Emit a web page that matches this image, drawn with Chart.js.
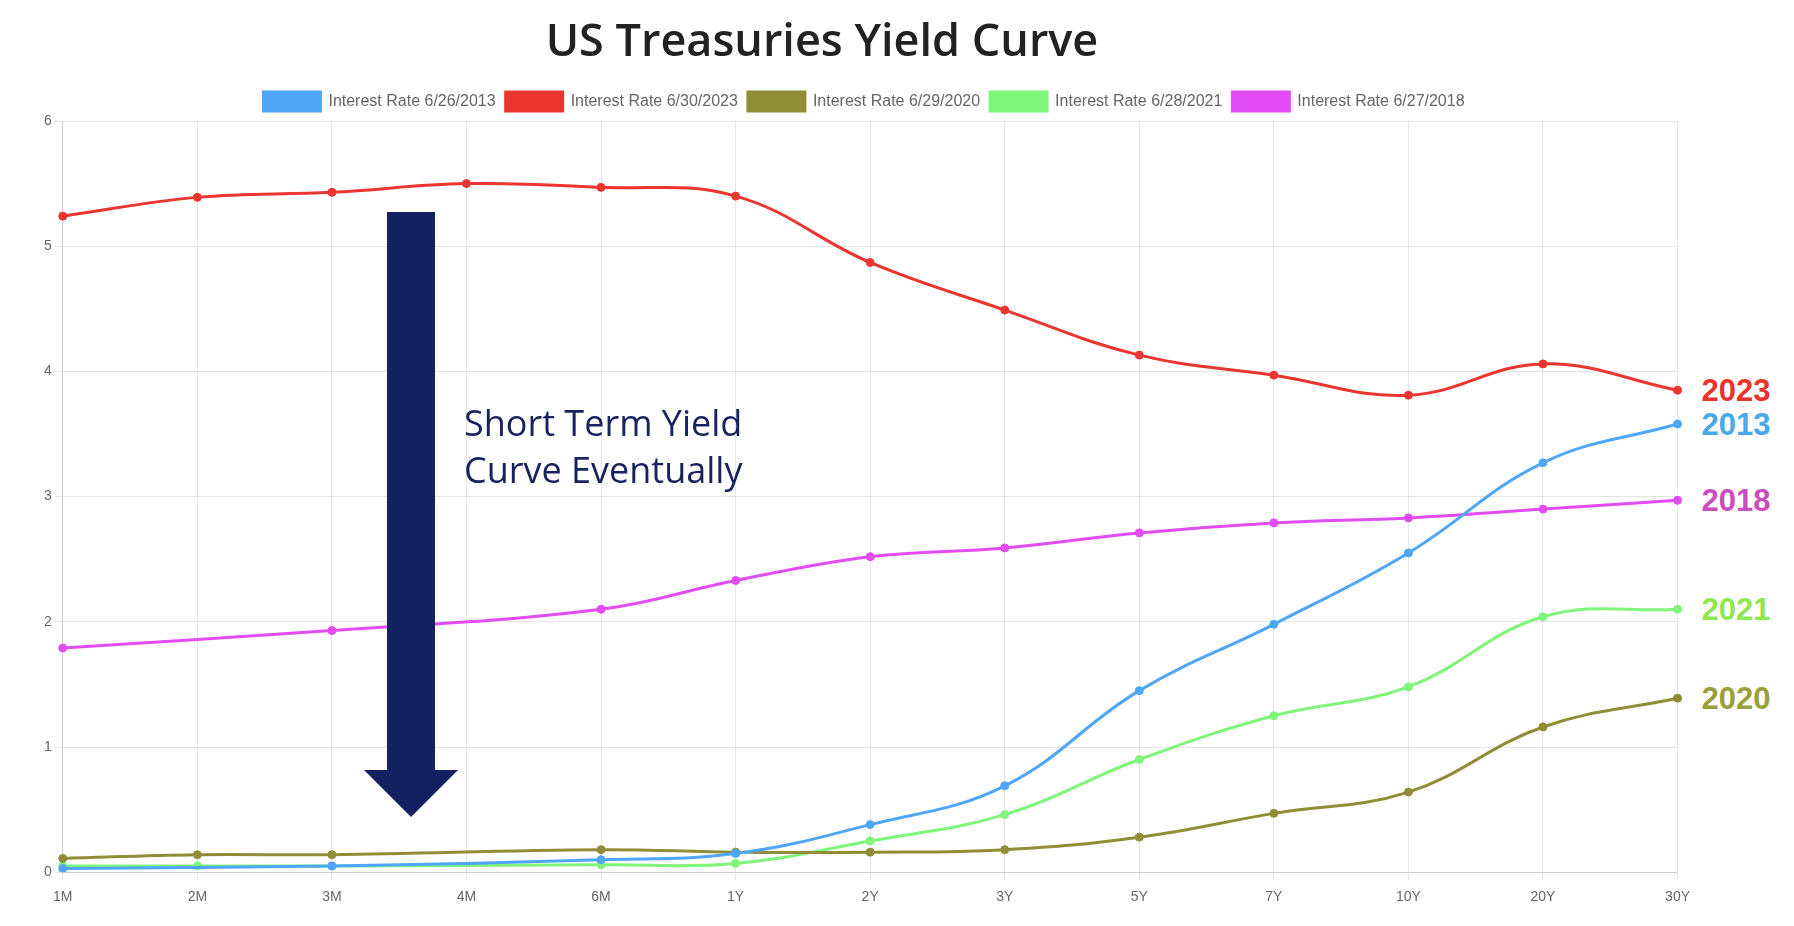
<!DOCTYPE html>
<html>
<head>
<meta charset="utf-8">
<script src="https://cdn.jsdelivr.net/npm/chart.js@4.4.0/dist/chart.umd.min.js"></script>
<style>
  html, body { margin: 0; padding: 0; background: #fff; }
  #wrap { position: relative; width: 1794px; height: 926px; overflow: hidden; }
  #title {
    position: absolute; left: 0; top: 9px; width: 1644px; height: 60px; line-height: 60px;
    text-align: center; font-family: "Open Sans", sans-serif; font-weight: 600; font-size: 45px; color: #222;
  }
  #chartBox { position: absolute; left: 0; top: 0; width: 1699px; height: 926px; }
  .endLabel {
    position: absolute; font-family: "Liberation Sans", Arial, sans-serif; font-weight: bold;
    font-size: 31px; line-height: 1; transform: translateY(-50%); white-space: nowrap;
  }
</style>
</head>
<body>
<div id="wrap">
  <div id="chartBox"><canvas id="chart" width="1699" height="926"></canvas></div>
  <div id="title">US Treasuries Yield Curve</div>
</div>
<script>
// maturities on the x axis
const maturities = ["1M", "2M", "3M", "4M", "6M", "1Y", "2Y", "3Y", "5Y", "7Y", "10Y", "20Y", "30Y"]

// yields (%) per date, null where that maturity was not issued
const rates2013 = [0.03, null, 0.05, null, 0.10, 0.15, 0.38, 0.69, 1.45, 1.98, 2.55, 3.27, 3.58]
const rates2023 = [5.24, 5.39, 5.43, 5.50, 5.47, 5.40, 4.87, 4.49, 4.13, 3.97, 3.81, 4.06, 3.85]
const rates2020 = [0.11, 0.14, 0.14, null, 0.18, 0.16, 0.16, 0.18, 0.28, 0.47, 0.64, 1.16, 1.39]
const rates2021 = [0.05, 0.05, 0.05, null, 0.06, 0.07, 0.25, 0.46, 0.90, 1.25, 1.48, 2.04, 2.10]
const rates2018 = [1.79, null, 1.93, null, 2.10, 2.33, 2.52, 2.59, 2.71, 2.79, 2.83, 2.90, 2.97]

const seriesNames = ["Interest Rate 6/26/2013", "Interest Rate 6/30/2023", "Interest Rate 6/29/2020",
                     "Interest Rate 6/28/2021", "Interest Rate 6/27/2018"]
const yearLabels = ["2013", "2023", "2020", "2021", "2018"]

const yTicks = [0, 1, 2, 3, 4, 5, 6]

const lineColors = ["#4fa5f8", "#eb3530", "#8f8e36", "#7ff57a", "#e24cf3"]
const labelColors = ["#48a9e8", "#e8342c", "#98a03a", "#8de84f", "#cc4cc0"]

const allRates = [rates2013, rates2023, rates2020, rates2021, rates2018]

// hand drawn arrow + note over the short end
const noteOverlay = {
  id: "noteOverlay",
  afterDatasetsDraw(chart) {
    const ctx = chart.ctx
    ctx.save()
    ctx.fillStyle = "#142161"
    ctx.beginPath()
    ctx.moveTo(387, 212)
    ctx.lineTo(435, 212)
    ctx.lineTo(435, 770)
    ctx.lineTo(458, 770)
    ctx.lineTo(411, 817)
    ctx.lineTo(364, 770)
    ctx.lineTo(387, 770)
    ctx.closePath()
    ctx.fill()

    ctx.fillStyle = "#17225e"
    ctx.font = "36px 'Open Sans', sans-serif"
    ctx.textAlign = "left"
    ctx.textBaseline = "alphabetic"
    ctx.fillText("Short Term Yield", 464, 436)
    ctx.fillText("Curve Eventually", 464, 483)
    ctx.restore()
  }
}

// year tags to the right of the last point
const endTags = {
  id: "endTags",
  afterRender(chart) {
    const wrap = document.getElementById("wrap")
    wrap.querySelectorAll(".endLabel").forEach(el => el.remove())
    const yScale = chart.scales.y
    const right = chart.chartArea.right
    allRates.forEach((rates, i) => {
      const last = rates[rates.length - 1]
      const el = document.createElement("div")
      el.className = "endLabel"
      el.textContent = yearLabels[i]
      el.style.color = labelColors[i]
      el.style.left = (right + 24) + "px"
      el.style.top = yScale.getPixelForValue(last) + "px"
      wrap.appendChild(el)
    })
  }
}

const datasets = allRates.map((rates, i) => ({
  label: seriesNames[i],
  data: rates,
  borderColor: lineColors[i],
  backgroundColor: lineColors[i],
  pointBackgroundColor: lineColors[i],
  pointBorderColor: lineColors[i],
  borderWidth: 3,
  pointRadius: 4,
  pointBorderWidth: 1,
  tension: 0.4,
  spanGaps: true,
  fill: false
}))

const ctx = document.getElementById("chart").getContext("2d")
new Chart(ctx, {
  type: "line",
  data: { labels: maturities, datasets: datasets },
  options: {
    responsive: false,
    animation: false,
    devicePixelRatio: 1,
    layout: { padding: { top: 82, left: 41, right: 12, bottom: 11 } },
    plugins: {
      title: { display: false },
      tooltip: { enabled: false },
      legend: {
        display: true,
        position: "top",
        labels: {
          boxWidth: 57,
          boxHeight: 19,
          padding: 10,
          color: "#666",
          font: { family: "'Liberation Sans', Arial, sans-serif", size: 16 }
        }
      }
    },
    scales: {
      x: {
        grid: { color: "rgba(0,0,0,0.1)" },
        ticks: { color: "#666", padding: 9, font: { family: "'Liberation Sans', Arial, sans-serif", size: 14 }, maxRotation: 0 }
      },
      y: {
        min: yTicks[0],
        max: yTicks[yTicks.length - 1],
        grid: { color: "rgba(0,0,0,0.1)" },
        ticks: { stepSize: 1, color: "#666", font: { family: "'Liberation Sans', Arial, sans-serif", size: 14 } }
      }
    }
  },
  plugins: [noteOverlay, endTags]
})
</script>
</body>
</html>
